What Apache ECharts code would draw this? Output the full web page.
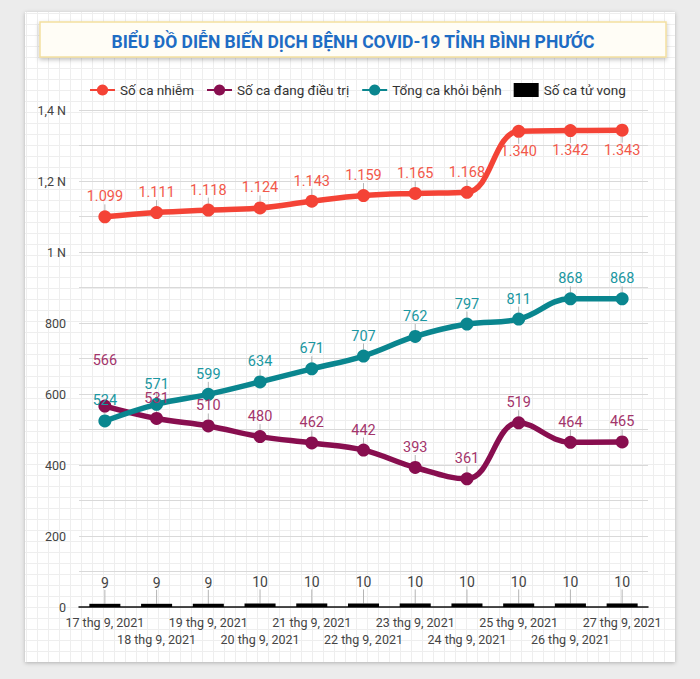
<!DOCTYPE html>
<html>
<head>
<meta charset="utf-8">
<script src="https://cdn.jsdelivr.net/npm/echarts@6/dist/echarts.min.js"></script>
<style>
  html, body { margin:0; padding:0; background:#ececec; width:700px; height:679px; overflow:hidden; }
  #card { position:absolute; left:25px; top:12px; width:650px; height:650px; background-color:#fff;
    background-image: linear-gradient(#eeeeee 1px, transparent 1px), linear-gradient(90deg, #eeeeee 1px, transparent 1px);
    background-size: 11px 11px; background-position: 1px 1px;
    box-shadow: 0 1px 4px rgba(0,0,0,0.25); }
  #chart { position:absolute; left:0; top:0; width:700px; height:679px; }
</style>
</head>
<body>
<div id="card"></div>
<div id="chart"></div>
<script>
const titleText = 'BIỂU ĐỒ DIỄN BIẾN DỊCH BỆNH COVID-19 TỈNH BÌNH PHƯỚC';
const categories = ['17 thg 9, 2021','18 thg 9, 2021','19 thg 9, 2021','20 thg 9, 2021','21 thg 9, 2021','22 thg 9, 2021','23 thg 9, 2021','24 thg 9, 2021','25 thg 9, 2021','26 thg 9, 2021','27 thg 9, 2021'];
const seriesNames = ['Số ca nhiễm','Số ca đang điều trị','Tổng ca khỏi bệnh','Số ca tử vong'];
const infected = [1099,1111,1118,1124,1143,1159,1165,1168,1340,1342,1343];
const treating = [566,531,510,480,462,442,393,361,519,464,465];
const recovered = [524,571,599,634,671,707,762,797,811,868,868];
const deaths = [9,9,9,10,10,10,10,10,10,10,10];
const yMin = 0, yMax = 1400, yStep = 100, yLabelStep = 200;

function fmtNum(v){ return String(v).replace(/\B(?=(\d{3})+(?!\d))/g,'.'); }
function fmtAxis(v){
  if (v % yLabelStep !== 0) return '';
  if (v >= 1000) return String(v/1000).replace('.',',') + ' N';
  return String(v);
}

const chart = echarts.init(document.getElementById('chart'), null, {renderer:'svg'});
const FONT = 'Roboto';

function lineSeries(name, data, color, labelColor, layoutFn){
  return {
    name, type:'line', data, smooth:0.4, symbol:'circle', symbolSize:13,
    lineStyle:{width:5.5, color}, itemStyle:{color},
    label:{show:true, position:'inside', color:labelColor, fontFamily:FONT, fontSize:14.5,
      formatter:p=>fmtNum(p.value)},
    labelLine:{show:true, lineStyle:{color:'#b5b5b5', width:1}},
    labelLayout: layoutFn,
    z:3
  };
}

// first label of "treating" is pushed up to avoid overlap, without a guide line
const treatingData = treating.map((v,i)=> i===0 ? {value:v, labelLine:{show:false}} : v);

chart.setOption({
  animation:false,
  textStyle:{fontFamily:FONT},
  graphic:[
    {type:'rect', shape:{x:40, y:22, width:626, height:35},
     style:{fill:'#fffdf6', stroke:'#f3dfa0', lineWidth:1.5, shadowBlur:4, shadowOffsetY:2, shadowColor:'rgba(0,0,0,0.25)'}, z:1},
    {type:'text', x:353, y:42, style:{text:titleText, fill:'#1e6cc4', font:'bold 17.5px Roboto', align:'center', verticalAlign:'middle'}, z:2}
  ],
  legend:{
    top:78, left:84, itemWidth:25, itemHeight:14, itemGap:12,
    textStyle:{fontSize:13.5, color:'#333', fontFamily:FONT},
    data:[
      {name:seriesNames[0]},
      {name:seriesNames[1]},
      {name:seriesNames[2]},
      {name:seriesNames[3], icon:'rect'}
    ]
  },
  grid:{left:79, right:52, top:110, bottom:72, containLabel:false},
  xAxis:{
    type:'category', data:categories, boundaryGap:true,
    axisLine:{lineStyle:{color:'#111', width:1.5}},
    axisTick:{show:false},
    axisLabel:{interval:0, color:'#444', fontSize:12.5, fontFamily:FONT, margin:7, lineHeight:17,
      formatter:(v,i)=> i%2===1 ? '\n'+v : v},
    splitLine:{show:false}
  },
  yAxis:{
    type:'value', min:yMin, max:yMax, interval:yStep,
    axisLine:{show:false}, axisTick:{show:false},
    axisLabel:{color:'#444', fontSize:12.5, fontFamily:FONT, margin:13, formatter:fmtAxis},
    splitLine:{lineStyle:{color:'#d9d9d9', width:1.2}}
  },
  series:[
    lineSeries(seriesNames[0], infected, '#f44336', '#f2584a', p=>({dy: p.dataIndex>=8 ? 20 : -20})),
    lineSeries(seriesNames[1], treatingData, '#880e4f', '#a3356b', p=>({dy: p.dataIndex===0 ? -46 : -20})),
    lineSeries(seriesNames[2], recovered, '#0a868f', '#1b97a1', p=>({dy:-20})),
    {
      name:seriesNames[3], type:'bar', data:deaths, barWidth:'60%',
      itemStyle:{color:'#000'},
      label:{show:true, position:'top', distance:4, color:'#444', fontSize:14, fontFamily:FONT},
      labelLine:{show:true, lineStyle:{color:'#b5b5b5', width:1}},
      labelLayout:{dy:-10},
      z:2
    }
  ]
});
</script>
</body>
</html>
